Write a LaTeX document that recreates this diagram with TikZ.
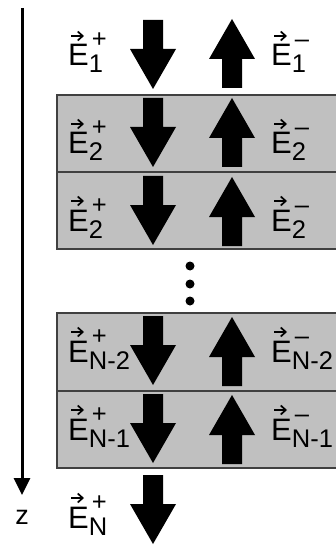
\documentclass[tikz,border=0pt]{standalone}
\usepackage{fontspec}
\setmainfont{Liberation Sans}
\usetikzlibrary{arrows.meta}
\definecolor{boxgray}{HTML}{C0C0C0}
\definecolor{edgegray}{HTML}{404040}
\newcommand{\scr}{\fontsize{25.5}{26}\selectfont}
\newcommand{\vecE}[2]{E\makebox[0pt][l]{\hspace{3pt}\raisebox{18pt}{\scr #1}}\raisebox{-7pt}{\scr #2}}
\tikzset{
  layerbox/.style={fill=boxgray, draw=edgegray, line width=1.5pt},
  zaxis/.style={line width=3pt, -{Triangle[width=16pt,length=17pt]}},
  fieldlbl/.style={anchor=base west, inner sep=0pt, font=\fontsize{31}{32}\selectfont},
  vecarrow/.style={line width=1.7pt, -{Straight Barb[length=5pt,width=9pt,line width=1.7pt]}},
  pics/fatdown/.style={code={\fill (-10,0) -- (10,0) -- (10,29) -- (23,29) -- (0,69) -- (-23,29) -- (-10,29) -- cycle;}},
  pics/fatup/.style={code={\fill (0,0) -- (23,40) -- (10,40) -- (10,69) -- (-10,69) -- (-10,40) -- (-23,40) -- cycle;}},
}
\begin{document}
\begin{tikzpicture}[x=1pt,y=-1pt]
\useasboundingbox (0,0) rectangle (336,545);
% layers
\draw[layerbox] (57,95) rectangle (345,172);
\draw[layerbox] (57,172) rectangle (345,249);
\draw[layerbox] (57,313) rectangle (345,391);
\draw[layerbox] (57,391) rectangle (345,468);
% z axis
\coordinate (ztop) at (22,8);
\coordinate (zend) at (22,495);
\draw[zaxis] (ztop) -- (zend);
\node[font=\fontsize{27}{27}\selectfont, inner sep=0pt] (zlbl) at (22,517) {z};
% big arrows
\pic at (153,20) {fatdown};
\pic at (232,19) {fatup};
\pic at (153,98) {fatdown};
\pic at (232,98) {fatup};
\pic at (153,176) {fatdown};
\pic at (232,177) {fatup};
\pic at (153,316) {fatdown};
\pic at (232,317) {fatup};
\pic at (153,394) {fatdown};
\pic at (232,395) {fatup};
\pic at (153,475) {fatdown};
% labels
\node[fieldlbl] (e1p) at (68,66) {\vecE{+}{1}};
\node[fieldlbl] (e1m) at (271,66) {\vecE{–}{1}};
\node[fieldlbl] (e2p) at (68,154) {\vecE{+}{2}};
\node[fieldlbl] (e2m) at (271,154) {\vecE{–}{2}};
\node[fieldlbl] (e3p) at (68,231) {\vecE{+}{2}};
\node[fieldlbl] (e3m) at (271,231) {\vecE{–}{2}};
\node[fieldlbl] (en2p) at (68,362) {\vecE{+}{N-2}};
\node[fieldlbl] (en2m) at (271,362) {\vecE{–}{N-2}};
\node[fieldlbl] (en1p) at (68,440) {\vecE{+}{N-1}};
\node[fieldlbl] (en1m) at (271,440) {\vecE{–}{N-1}};
\node[fieldlbl] (enp) at (68,528) {\vecE{+}{N}};
% vector arrows over the E's
\foreach \n in {e1p,e1m,e2p,e2m,e3p,e3m,en2p,en2m,en1p,en1m,enp}
  \draw[vecarrow] ([shift={(3,-30)}]\n.base west) -- ++(13,0);
% ellipsis dots
\fill (190,266) circle (4.5pt);
\fill (190,284) circle (4.5pt);
\fill (190,301) circle (4.5pt);
\end{tikzpicture}
\end{document}
